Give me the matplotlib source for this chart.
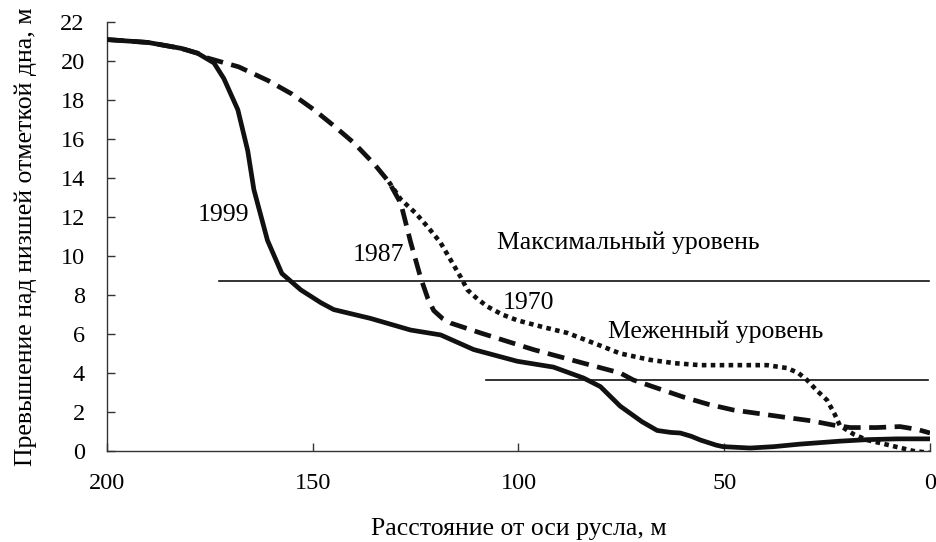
import matplotlib
matplotlib.use("Agg")
import matplotlib.pyplot as plt

plt.rcParams["font.family"] = ["Liberation Serif", "DejaVu Serif"]

# 1999 profile (solid)
x_1999 = [200, 190, 182, 178, 174, 171.6, 168.2, 165.8, 164.3, 161, 157.5, 152.9, 148,
          144.9, 136, 126.2, 118.9, 110.9, 100.3, 91.5, 84.2, 80.1, 75.3, 70, 66.3, 63,
          60.7, 58, 55.8, 52, 50.3, 43.7, 38, 31.6, 22, 15.3, 8, 0]
y_1999 = [21.1, 20.95, 20.65, 20.4, 19.9, 19.1, 17.5, 15.4, 13.4, 10.8, 9.1, 8.26, 7.6,
          7.25, 6.8, 6.2, 5.95, 5.2, 4.6, 4.3, 3.74, 3.3, 2.3, 1.5, 1.05, 0.95,
          0.92, 0.75, 0.56, 0.3, 0.22, 0.15, 0.22, 0.35, 0.5, 0.58, 0.62, 0.62]

# 1987 profile (dashed)
x_1987 = [200, 190, 182, 178, 175.5, 168, 160.9, 155, 149.7, 145, 140, 135, 131.5, 128.6,
          126.2, 123.8, 122, 120.6, 118.5, 116.5, 109.2, 96.4, 84.2, 75.3, 72.1, 66, 60,
          54, 47.8, 41, 35.7, 29, 23.6, 19.4, 13, 7.3, 3, 0]
y_1987 = [21.1, 20.95, 20.65, 20.4, 20.15, 19.7, 19.0, 18.3, 17.5, 16.7, 15.8, 14.7, 13.8, 12.7,
          10.7, 8.9, 7.8, 7.2, 6.8, 6.56, 6.05, 5.2, 4.5, 4.0, 3.64, 3.2, 2.77,
          2.4, 2.1, 1.9, 1.74, 1.55, 1.33, 1.2, 1.2, 1.25, 1.1, 0.92]

# 1970 profile (dotted), separates from 1987 near 131 m
x_1970 = [131.5, 128.6, 125, 122.1, 119, 116.5, 114, 112.4, 110, 107.5, 104, 100.3, 94,
          88.1, 80.1, 75.3, 68, 62, 55.8, 47, 39.6, 34.7, 32, 29.9, 27.5, 25, 23.2, 21.9,
          18.5, 15.3, 12, 9, 6, 4.1, 2, 0]
y_1970 = [13.8, 12.9, 12.2, 11.5, 10.7, 9.8, 8.9, 8.26, 7.8, 7.4, 7.0, 6.7, 6.35,
          6.05, 5.4, 5.0, 4.67, 4.5, 4.4, 4.4, 4.4, 4.25, 4.0, 3.64, 3.1, 2.6, 1.9, 1.3,
          0.85, 0.56, 0.4, 0.25, 0.1, 0.0, -0.05, -0.1]

# water levels
max_level = 8.72
max_level_x = [172.8, 0.2]
low_level = 3.64
low_level_x = [108, 0.5]

x_ticks = [200, 150, 100, 50, 0]
y_ticks = list(range(0, 23, 2))

fig = plt.figure(figsize=(9.36, 5.42), dpi=100)
ax = fig.add_axes([0.1143, 0.168, 0.8793, 0.7914])

ax.plot(x_1999, y_1999, color="#111111", linewidth=3.4, solid_joinstyle="round",
        solid_capstyle="butt", zorder=4)
ax.plot(x_1987, y_1987, color="#111111", linewidth=3.4, linestyle=(0, (3.6, 1.8)),
        dash_capstyle="butt", zorder=3)
ax.plot(x_1970, y_1970, color="#111111", linewidth=3.3, linestyle=(0, (1, 0.95)),
        dash_capstyle="butt", zorder=3)

ax.plot(max_level_x, [max_level, max_level], color="#111111", linewidth=1.2, zorder=2)
ax.plot(low_level_x, [low_level, low_level], color="#111111", linewidth=1.2, zorder=2)

fs = 18.5
ax.text(171.8, 12.1, "1999", fontsize=fs, ha="center", va="center")
ax.text(134.1, 10.05, "1987", fontsize=fs, ha="center", va="center")
ax.text(97.7, 7.6, "1970", fontsize=fs, ha="center", va="center")
ax.text(105.2, 10.67, "Максимальный уровень", fontsize=fs, ha="left", va="center")
ax.text(78.3, 6.1, "Меженный уровень", fontsize=fs, ha="left", va="center")

ax.set_xlim(200, 0)
ax.set_ylim(0, 22)
ax.set_xticks(x_ticks)
ax.set_yticks(y_ticks)
ax.spines["top"].set_visible(False)
ax.spines["right"].set_visible(False)
for s in ["left", "bottom"]:
    ax.spines[s].set_linewidth(1.0)
    ax.spines[s].set_color("#333333")
ax.tick_params(axis="y", direction="in", length=6, width=1.0, pad=16, labelsize=17.5,
               color="#333333")
ax.tick_params(axis="x", direction="in", length=6, width=1.0, pad=16, labelsize=17.5,
               color="#333333")

ax.set_xlabel("Расстояние от оси русла, м", fontsize=fs, labelpad=17)
ax.set_ylabel("Превышение над низшей отметкой дна, м", fontsize=fs, labelpad=17)

fig.savefig("out.png", dpi=100)
